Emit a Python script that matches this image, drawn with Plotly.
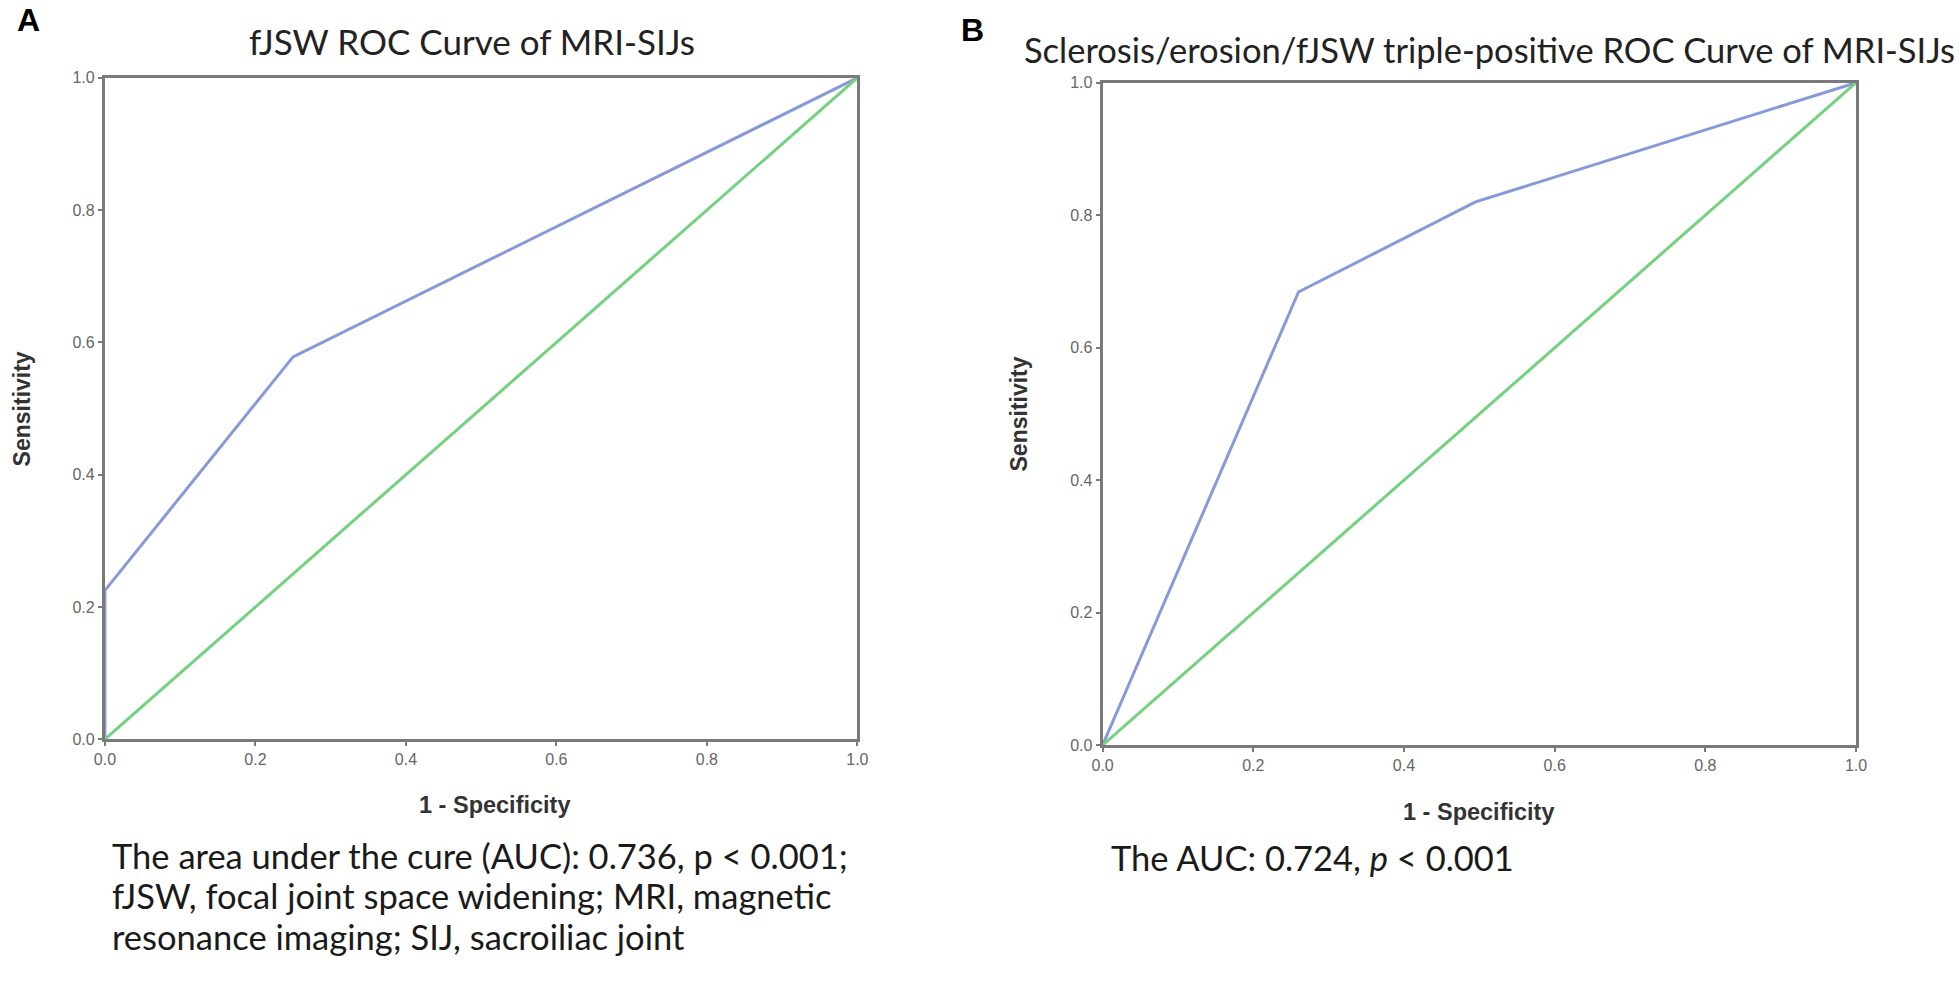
import plotly.graph_objects as go

# ---- data ----
fpr_a = [0.0, 0.0, 0.25, 1.0]
tpr_a = [0.0, 0.225, 0.578, 1.0]
fpr_b = [0.0, 0.26, 0.495, 1.0]
tpr_b = [0.0, 0.684, 0.82, 1.0]
ref_line = [0.0, 1.0]
tick_vals = [0.0, 0.2, 0.4, 0.6, 0.8, 1.0]
tick_text = ["0.0", "0.2", "0.4", "0.6", "0.8", "1.0"]

title_a = "fJSW ROC Curve of MRI-SIJs"
title_b = "Sclerosis/erosion/fJSW triple-positive ROC Curve of MRI-SIJs"
caption_a_lines = ["The area under the cure (AUC): 0.736, p < 0.001;",
                   "fJSW, focal joint space widening; MRI, magnetic",
                   "resonance imaging; SIJ, sacroiliac joint"]
caption_b = "The AUC: 0.724, <i>p</i> < 0.001"

W, H = 1960, 990
BLUE = "#8799d8"
GREEN = "#74d17f"
AXC = "#7a7a7a"


def px(x):
    return x / W


def py(y):
    return 1 - y / H


fig = go.Figure()
fig.add_trace(go.Scatter(x=fpr_a, y=tpr_a, mode="lines", line=dict(color=BLUE, width=3),
                         xaxis="x", yaxis="y", showlegend=False))
fig.add_trace(go.Scatter(x=ref_line, y=ref_line, mode="lines", line=dict(color=GREEN, width=3),
                         xaxis="x", yaxis="y", showlegend=False))
fig.add_trace(go.Scatter(x=fpr_b, y=tpr_b, mode="lines", line=dict(color=BLUE, width=3),
                         xaxis="x2", yaxis="y2", showlegend=False))
fig.add_trace(go.Scatter(x=ref_line, y=ref_line, mode="lines", line=dict(color=GREEN, width=3),
                         xaxis="x2", yaxis="y2", showlegend=False))

axis_common = dict(range=[0, 1], tickvals=tick_vals, ticktext=tick_text, showgrid=False,
                   zeroline=False, showline=True, linecolor=AXC, linewidth=3, mirror=True,
                   ticks="outside", ticklen=4, tickwidth=2, tickcolor=AXC,
                   tickfont=dict(family="Liberation Sans", size=16, color="#666666"))

A_L, A_R, A_T, A_B = 95, 856, 71, 744
B_L, B_R, B_T, B_B = 1104, 1866, 76, 750

fig.update_layout(
    width=W, height=H,
    margin=dict(l=0, r=0, t=0, b=0),
    paper_bgcolor="white", plot_bgcolor="white",
    xaxis=dict(domain=[px(A_L), px(A_R)], anchor="y", **axis_common),
    yaxis=dict(domain=[py(A_B), py(A_T)], anchor="x", **axis_common),
    xaxis2=dict(domain=[px(B_L), px(B_R)], anchor="y2", **axis_common),
    yaxis2=dict(domain=[py(B_B), py(B_T)], anchor="x2", **axis_common),
)

ax_font = dict(family="Liberation Sans", size=23, color="#333333")
txt_font = dict(family="Lato", size=34.5, color="#1a1a1a")

ann = []
ann.append(dict(text="<b>A</b>", x=px(4), y=py(12), xanchor="left", yanchor="middle",
                font=dict(family="Liberation Sans", size=32, color="black")))
ann.append(dict(text="<b>B</b>", x=px(959), y=py(22), xanchor="left", yanchor="middle",
                font=dict(family="Liberation Sans", size=32, color="black")))
ann.append(dict(text=title_a, x=px(466), y=py(34), xanchor="center", yanchor="middle",
                font=dict(family="Lato", size=35, color="#222222")))
ann.append(dict(text=title_b, x=px(1022), y=py(42), xanchor="left", yanchor="middle",
                font=dict(family="Lato", size=34.5, color="#222222")))
# axis titles
ann.append(dict(text="<b>Sensitivity</b>", x=px(11), y=py((A_T + A_B) / 2), textangle=-90,
                xanchor="center", yanchor="middle", font=ax_font))
ann.append(dict(text="<b>Sensitivity</b>", x=px(1019), y=py((B_T + B_B) / 2), textangle=-90,
                xanchor="center", yanchor="middle", font=ax_font))
ann.append(dict(text="<b>1 - Specificity</b>", x=px((A_L + A_R) / 2 + 14), y=py(811),
                xanchor="center", yanchor="middle", font=dict(ax_font, size=23.5)))
ann.append(dict(text="<b>1 - Specificity</b>", x=px((B_L + B_R) / 2), y=py(818),
                xanchor="center", yanchor="middle", font=dict(ax_font, size=23.5)))
# captions
for i, line in enumerate(caption_a_lines):
    ann.append(dict(text=line, x=px(100), y=py(862 + 41.5 * i), xanchor="left", yanchor="middle",
                    font=txt_font))
ann.append(dict(text=caption_b, x=px(1110), y=py(864), xanchor="left", yanchor="middle",
                font=txt_font))
for a in ann:
    a.update(xref="paper", yref="paper", showarrow=False)
fig.update_layout(annotations=ann)

# remove the default page margin so the figure sits at the window origin
fig.write_html("out.html", config={"displayModeBar": False},
               post_script="document.body.style.margin='0px';")
